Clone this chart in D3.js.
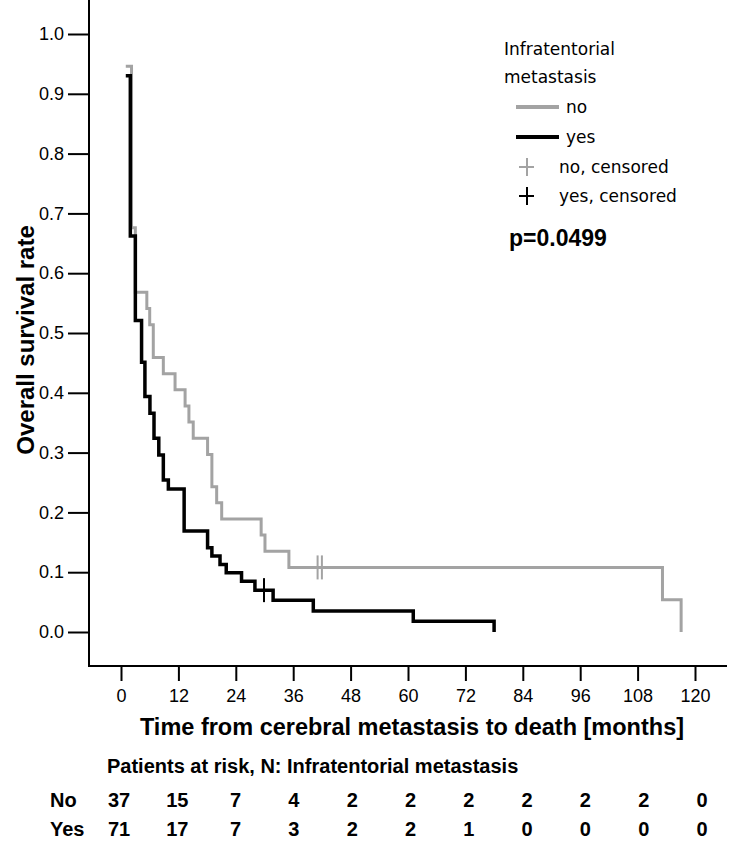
<!DOCTYPE html>
<html>
<head>
<meta charset="utf-8">
<script src="https://cdn.jsdelivr.net/npm/d3@7"></script>
<style>
  body { margin: 0; background: #fff; }
  svg { display: block; }
</style>
</head>
<body>
<div id="chart"></div>
<script>
// Kaplan-Meier steps (months, survival)
const noTime  = [1.0, 2.2, 3.0, 5.4, 6.0, 6.75, 8.85, 11.3, 13.4, 14.2, 15.1, 18.1, 19.0, 20.0, 21.05, 29.3, 30.1, 35.1, 113.2, 117.1];
const noSurv  = [0.946, 0.676, 0.568, 0.541, 0.514, 0.459, 0.432, 0.405, 0.378, 0.351, 0.324, 0.297, 0.243, 0.216, 0.189, 0.162, 0.135, 0.108, 0.054, 0.0];
const yesTime = [1.0, 1.95, 3.0, 4.3, 5.0, 6.05, 6.9, 7.9, 8.85, 9.9, 13.2, 18.1, 19.0, 20.7, 22.0, 25.2, 28.0, 31.8, 40.2, 61.1, 78.0];
const yesSurv = [0.930, 0.662, 0.521, 0.451, 0.394, 0.366, 0.324, 0.296, 0.254, 0.239, 0.169, 0.141, 0.127, 0.113, 0.099, 0.085, 0.070, 0.053, 0.035, 0.018, 0.0];
const noCensored  = [41.1, 42.0];
const yesCensored = [29.9];

// axis ticks
const xTicks = [0, 12, 24, 36, 48, 60, 72, 84, 96, 108, 120];
const yTicks = [0, 0.1, 0.2, 0.3, 0.4, 0.5, 0.6, 0.7, 0.8, 0.9, 1.0];

// patients at risk table
const riskGroups = ['No', 'Yes'];
const riskNo  = [37, 15, 7, 4, 2, 2, 2, 2, 2, 2, 0];
const riskYes = [71, 17, 7, 3, 2, 2, 1, 0, 0, 0, 0];

const legendItems = ['no', 'yes', 'no, censored', 'yes, censored'];
const pValue = 'p=0.0499';

function renderChart() {
    const W = 750, H = 859;
    const svg = d3.select('#chart').append('svg')
        .attr('width', W)
        .attr('height', H)
        .style('font-family', '"Liberation Sans", Arial, sans-serif');

    const grey = '#a3a3a3';

    // scales
    const x = d3.scaleLinear().domain([0, 120]).range([121, 695]);
    const y = d3.scaleLinear().domain([0, 1]).range([632, 34]);

    // axis frame lines
    svg.append('line')
        .attr('x1', 89).attr('x2', 89).attr('y1', 0).attr('y2', 667)
        .attr('stroke', '#000').attr('stroke-width', 2);
    svg.append('line')
        .attr('x1', 88).attr('x2', 727).attr('y1', 666).attr('y2', 666)
        .attr('stroke', '#000').attr('stroke-width', 2);

    // y axis
    const yAxis = svg.append('g')
        .attr('transform', 'translate(89,0)')
        .call(d3.axisLeft(y).tickValues(yTicks).tickFormat(d3.format('.1f')).tickSize(21).tickPadding(4));
    yAxis.select('.domain').remove();
    yAxis.selectAll('line').attr('stroke', '#000').attr('stroke-width', 2);
    yAxis.selectAll('text').attr('fill', '#000').style('font-size', '18px');

    // x axis
    const xAxis = svg.append('g')
        .attr('transform', 'translate(0,666)')
        .call(d3.axisBottom(x).tickValues(xTicks).tickSize(15).tickPadding(8));
    xAxis.select('.domain').remove();
    xAxis.selectAll('line').attr('stroke', '#000').attr('stroke-width', 2);
    xAxis.selectAll('text').attr('fill', '#000').style('font-size', '18px');

    // axis titles
    svg.append('text')
        .attr('x', 412).attr('y', 735)
        .attr('text-anchor', 'middle')
        .style('font-size', '23.5px').style('font-weight', 'bold')
        .text('Time from cerebral metastasis to death [months]');

    svg.append('text')
        .attr('transform', 'translate(34,340) rotate(-90)')
        .attr('text-anchor', 'middle')
        .style('font-size', '24px').style('font-weight', 'bold')
        .text('Overall survival rate');

    // survival curves
    const line = d3.line()
        .x(d => x(d[0]))
        .y(d => y(d[1]))
        .curve(d3.curveStepAfter);

    const series = [
        { time: noTime, surv: noSurv, censored: noCensored, color: grey, width: 3 },
        { time: yesTime, surv: yesSurv, censored: yesCensored, color: '#000', width: 3.5 }
    ];

    series.forEach(s => {
        const pts = s.time.map((t, i) => [t, s.surv[i]]);
        svg.append('path')
            .datum(pts)
            .attr('d', line)
            .attr('fill', 'none')
            .attr('stroke', s.color)
            .attr('stroke-width', s.width);

        // censor ticks
        s.censored.forEach(c => {
            const i = d3.bisectRight(s.time, c) - 1;
            const sv = s.surv[i];
            svg.append('line')
                .attr('x1', x(c)).attr('x2', x(c))
                .attr('y1', y(sv) - 12).attr('y2', y(sv) + 12)
                .attr('stroke', s.color).attr('stroke-width', 2);
        });
    });

    // legend
    const lg = svg.append('g').style('font-family', '"DejaVu Sans", sans-serif').style('font-size', '17px');
    lg.append('text').attr('x', 504).attr('y', 55).text('Infratentorial');
    lg.append('text').attr('x', 504).attr('y', 83).text('metastasis');

    const legendY = [107, 137, 167, 196];
    legendItems.forEach((label, i) => {
        const col = (i % 2 === 0) ? grey : '#000';
        if (i < 2) {
            lg.append('line')
                .attr('x1', 516).attr('x2', 559)
                .attr('y1', legendY[i]).attr('y2', legendY[i])
                .attr('stroke', col).attr('stroke-width', 4);
            lg.append('text').attr('x', 566).attr('y', legendY[i] + 6).text(label);
        } else {
            lg.append('line')
                .attr('x1', 519).attr('x2', 534)
                .attr('y1', legendY[i]).attr('y2', legendY[i])
                .attr('stroke', col).attr('stroke-width', 2);
            lg.append('line')
                .attr('x1', 527).attr('x2', 527)
                .attr('y1', legendY[i] - 9).attr('y2', legendY[i] + 9)
                .attr('stroke', col).attr('stroke-width', 2);
            lg.append('text').attr('x', 559).attr('y', legendY[i] + 6).text(label);
        }
    });

    svg.append('text')
        .attr('x', 509).attr('y', 246)
        .style('font-size', '23px').style('font-weight', 'bold')
        .text(pValue);

    // patients at risk table
    const col = d3.scaleLinear().domain([0, 120]).range([119, 702]);
    svg.append('text')
        .attr('x', 107).attr('y', 773)
        .style('font-size', '20px').style('font-weight', 'bold')
        .text('Patients at risk, N: Infratentorial metastasis');

    const rows = [riskNo, riskYes];
    const rowY = [807, 836];
    rows.forEach((vals, r) => {
        svg.append('text')
            .attr('x', 50).attr('y', rowY[r])
            .style('font-size', '20px').style('font-weight', 'bold')
            .text(riskGroups[r]);
        svg.selectAll(null)
            .data(vals)
            .enter()
            .append('text')
            .attr('x', (d, i) => col(xTicks[i]))
            .attr('y', rowY[r])
            .attr('text-anchor', 'middle')
            .style('font-size', '20px').style('font-weight', 'bold')
            .text(d => d);
    });
}

renderChart();
</script>
</body>
</html>
